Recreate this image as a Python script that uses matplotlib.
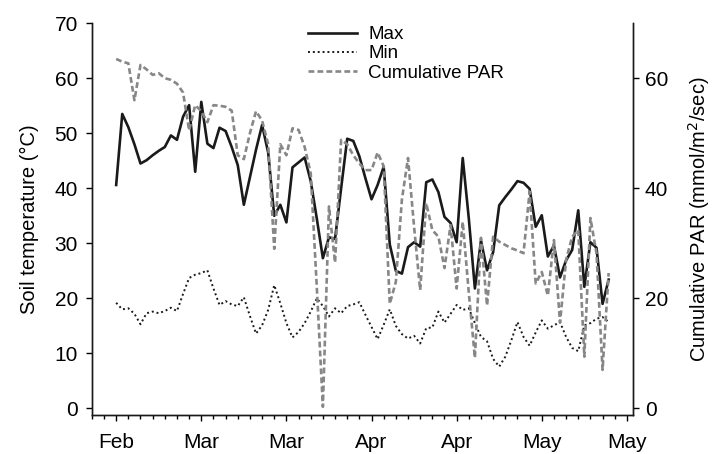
import matplotlib
matplotlib.use('Agg')
import matplotlib.pyplot as plt
import matplotlib.dates as mdates
import pandas as pd

plt.rcParams['font.family'] = ['Liberation Sans', 'DejaVu Sans']

# Daily soil temperature (°C) and cumulative PAR, 23 Feb - 15 May
dates = pd.date_range('2009-02-23', periods=82, freq='D')

max_temp = [40.6, 53.5, 51.1, 48.0, 44.5, 45.1, 46.0, 46.8, 47.5, 49.6,
            48.8, 53.0, 55.1, 43.0, 55.7, 48.1, 47.3, 51.0, 50.4, 47.5,
            44.2, 37.0, 42.0, 47.0, 51.5, 46.5, 35.0, 37.0, 33.8, 43.8,
            44.7, 45.6, 41.3, 34.5, 27.3, 31.1, 30.8, 40.0, 49.0, 48.6,
            45.8, 41.8, 38.0, 40.6, 43.9, 29.8, 25.0, 24.5, 29.3, 30.2,
            29.4, 41.1, 41.6, 39.3, 34.8, 33.7, 30.2, 45.5, 34.5, 21.8,
            30.5, 25.1, 28.4, 36.9, 38.4, 39.8, 41.3, 41.0, 39.9, 33.0,
            35.1, 27.6, 29.6, 23.8, 26.9, 28.8, 36.0, 22.1, 30.2, 29.2,
            19.0, 23.4]

min_temp = [19.2, 18.0, 18.2, 17.2, 15.3, 17.3, 17.6, 17.3, 17.7, 18.3,
            17.7, 20.8, 23.7, 24.3, 24.6, 25.1, 21.8, 18.8, 19.5, 18.9,
            18.6, 20.2, 16.8, 13.6, 15.1, 17.9, 22.4, 19.1, 15.5, 12.9,
            13.9, 15.5, 17.6, 20.0, 18.6, 16.7, 18.2, 17.3, 18.6, 18.9,
            19.3, 17.0, 14.8, 12.6, 15.2, 18.0, 15.0, 13.5, 12.7, 13.2,
            11.8, 14.6, 14.7, 17.6, 15.6, 17.2, 18.8, 17.9, 18.2, 15.5,
            13.0, 12.2, 9.0, 7.6, 9.4, 12.4, 15.7, 13.0, 11.4, 13.8,
            16.0, 14.5, 15.1, 15.7, 13.0, 11.0, 10.4, 15.1, 15.5, 16.3,
            16.6, 15.7]

par = [63.5, 63.0, 62.7, 56.0, 62.4, 61.6, 60.6, 60.9, 60.0, 59.7,
       59.0, 57.4, 50.5, 55.1, 54.0, 52.0, 55.1, 55.0, 54.8, 54.1,
       46.0, 45.3, 50.0, 54.0, 52.3, 48.0, 29.0, 48.0, 46.0, 50.9,
       50.6, 47.5, 42.7, 22.0, 0.3, 36.7, 26.5, 48.8, 48.0, 46.0,
       44.5, 43.3, 43.3, 46.5, 44.0, 19.0, 23.0, 38.0, 45.5, 33.0,
       21.5, 37.3, 32.4, 31.2, 25.5, 33.3, 21.8, 33.9, 21.0, 9.2,
       31.0, 18.7, 31.2, 30.3, 29.7, 29.1, 28.7, 28.2, 39.4, 22.7,
       24.8, 20.5, 30.6, 15.6, 27.0, 31.2, 32.4, 9.4, 34.6, 28.2,
       7.0, 24.6]

major_days = pd.date_range('2009-02-23', periods=7, freq='14D')
minor_days = pd.date_range('2009-02-19', '2009-05-19', freq='2D')

fig = plt.figure(figsize=(7.12, 4.54), dpi=100)
ax = fig.add_axes([0.129, 0.087, 0.76, 0.862])
ax2 = ax.twinx()

l1, = ax.plot(dates, max_temp, color='#1a1a1a', lw=1.9, label='Max')
l2, = ax.plot(dates, min_temp, color='#1a1a1a', lw=1.4, ls=(0, (1, 1.5)), label='Min')
l3, = ax2.plot(dates, par, color='#878787', lw=1.9, ls=(0, (2.2, 1.2)), label='Cumulative PAR')

ax.set_xlim(pd.Timestamp('2009-02-19'), pd.Timestamp('2009-05-19'))
ax.set_ylim(-1.1, 70)
ax2.set_ylim(-1.1, 70)

ax.set_yticks(range(0, 71, 10))
ax2.set_yticks([0, 20, 40, 60])
ax.set_xticks(major_days)
ax.set_xticks(minor_days, minor=True)
ax.xaxis.set_major_formatter(mdates.DateFormatter('%b'))

for a in (ax, ax2):
    a.spines['top'].set_visible(False)
    for s in a.spines.values():
        s.set_linewidth(1.0)
        s.set_color('#1a1a1a')

ax.tick_params(axis='y', which='major', length=4, width=1, pad=6, labelsize=15)
ax.tick_params(axis='x', which='major', length=4.5, width=1, pad=9, labelsize=15)
ax.tick_params(axis='x', which='minor', length=3, width=1)
ax2.tick_params(axis='y', which='major', length=4.5, width=1, pad=4, labelsize=15)

ax.set_ylabel('Soil temperature (°C)', fontsize=14.5, labelpad=11)
ax2.set_ylabel('Cumulative PAR (mmol/m$^2$/sec)', fontsize=14.5, labelpad=13)

fig.legend(handles=[l1, l2, l3], loc='upper left',
           bbox_to_anchor=(308 / 712, 1 - 26 / 454), frameon=False,
           fontsize=13.5, handlelength=2.6, handletextpad=0.6,
           labelspacing=0.12, borderpad=0, borderaxespad=0)

fig.savefig('out.png', dpi=100)
